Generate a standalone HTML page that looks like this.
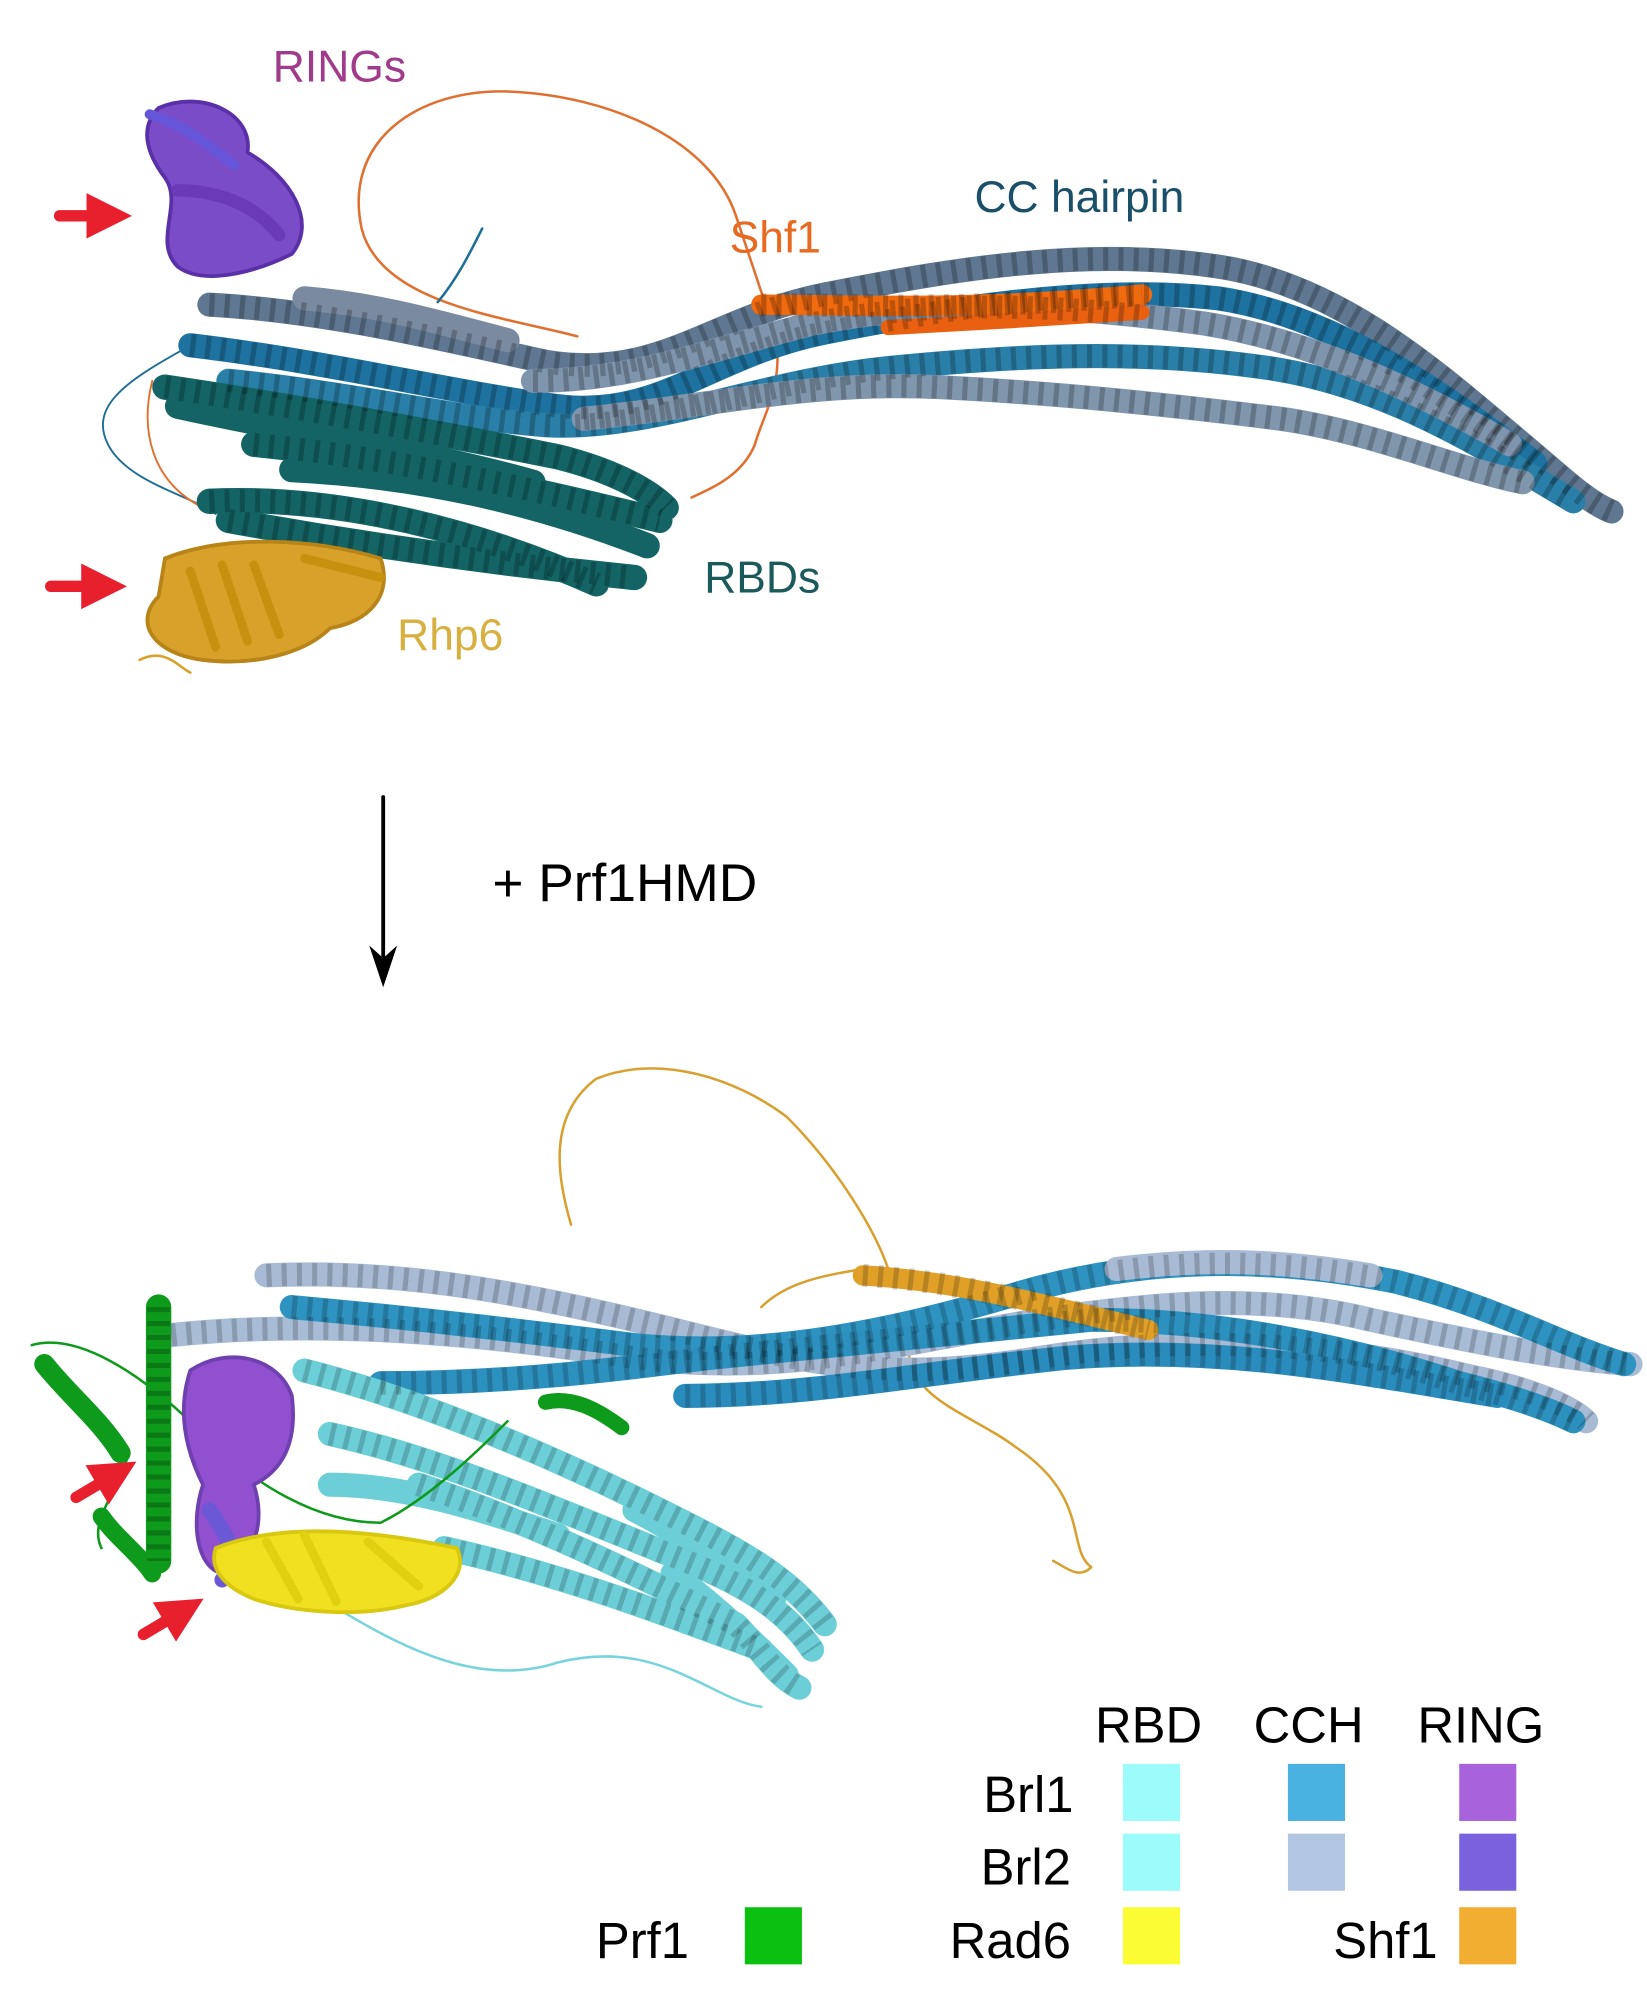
<!DOCTYPE html>
<html><head><meta charset="utf-8"><style>
html,body{margin:0;padding:0;background:#fff;}
svg{display:block;}
text{font-family:"Liberation Sans",Arial,sans-serif;}
</style></head><body>
<svg width="1647" height="2000" viewBox="0 0 1298 1576" xmlns="http://www.w3.org/2000/svg">
<defs>
<marker id="ah" markerWidth="4" markerHeight="4" refX="2" refY="2" orient="auto" markerUnits="strokeWidth"><path d="M0,0 L4,2 L0,4 z" fill="#e8202e"/></marker>
</defs>
<g fill="none" stroke-linecap="round" stroke-linejoin="round">
<path d="M455,265 C400,250 300,240 285,180 C270,110 330,70 400,72 C480,75 560,110 580,170 C590,200 600,230 610,260 C620,300 600,330 595,350 C585,375 560,385 545,392" stroke="#e07030" stroke-width="2"/>
<path d="M380,180 C370,200 360,220 345,238" stroke="#1e6f95" stroke-width="2"/>
<path d="M145,275 C100,300 70,320 85,350 C100,380 150,390 170,405" stroke="#1e6f95" stroke-width="1.5"/>
<path d="M120,300 C110,340 120,380 160,400" stroke="#e07030" stroke-width="1.5"/>
<g stroke-width="19">
<path d="M165,240 C260,245 360,270 430,285 C520,300 560,250 650,232 C760,210 860,195 960,210 C1060,225 1140,300 1200,350 C1230,375 1250,395 1270,403" stroke="#5f7790"/>
<path d="M150,272 C260,285 360,310 440,320 C520,330 560,280 650,262 C760,240 870,225 960,235 C1060,250 1150,320 1210,365" stroke="#1e72a0"/>
<path d="M180,300 C280,310 360,330 430,335 C510,340 600,300 700,290 C800,280 900,275 1000,290 C1100,305 1180,360 1240,395" stroke="#2a7fa8"/>
<path d="M420,300 C500,300 560,275 640,255 C740,235 840,240 950,255 C1040,270 1120,310 1190,350" stroke="#7f95ad"/>
<path d="M460,330 C560,320 640,300 740,305 C840,310 930,320 1010,330 C1080,340 1150,370 1200,380" stroke="#8096ad"/>
<path d="M240,235 C300,240 350,255 400,268" stroke="#7a8aa0"/>
</g>
<path d="M600,240 C680,240 760,245 900,232" stroke="#f06a10" stroke-width="16"/>
<path d="M700,258 C760,255 840,250 900,246" stroke="#e86010" stroke-width="12"/>
<g stroke-width="20" stroke="#146466">
<path d="M130,305 C230,320 340,340 440,360 C480,370 510,385 525,400"/>
<path d="M200,350 C300,360 400,380 520,410"/>
<path d="M165,395 C270,390 380,420 470,460"/>
<path d="M180,410 C290,430 400,445 500,455"/>
<path d="M230,370 C330,375 420,395 510,430"/>
<path d="M140,320 C230,340 330,355 420,380"/>
</g>
<g stroke="#000" stroke-opacity="0.22" stroke-width="18" stroke-dasharray="4 8" stroke-linecap="butt">
<path d="M165,240 C260,245 360,270 430,285 C520,300 560,250 650,232 C760,210 860,195 960,210 C1060,225 1140,300 1200,350 C1230,375 1250,395 1270,403"/>
<path d="M150,272 C260,285 360,310 440,320 C520,330 560,280 650,262 C760,240 870,225 960,235 C1060,250 1150,320 1210,365"/>
<path d="M180,300 C280,310 360,330 430,335 C510,340 600,300 700,290 C800,280 900,275 1000,290 C1100,305 1180,360 1240,395"/>
<path d="M460,330 C560,320 640,300 740,305 C840,310 930,320 1010,330 C1080,340 1150,370 1200,380"/>
<path d="M420,300 C500,300 560,275 640,255 C740,235 840,240 950,255 C1040,270 1120,310 1190,350"/>
<path d="M130,305 C230,320 340,340 440,360 C480,370 510,385 525,400"/>
<path d="M165,395 C270,390 380,420 470,460"/>
<path d="M180,410 C290,430 400,445 500,455"/>
<path d="M200,350 C300,360 400,380 520,410"/>
<path d="M600,240 C680,240 760,245 900,232"/>
</g>
<path d="M125,85 C160,70 200,90 195,120 C230,140 250,175 230,200 C200,215 160,225 140,210 C120,190 145,160 130,140 C115,120 110,100 125,85 z" fill="#7a4cc8" stroke="#5a30a8" stroke-width="3"/>
<path d="M140,150 C170,150 200,160 220,185" stroke="#6a3ab8" stroke-width="10"/>
<path d="M118,90 C150,100 170,120 185,130" stroke="#6655d8" stroke-width="8"/>
<path d="M130,440 C180,420 250,425 300,440 C310,470 290,490 260,495 C240,515 200,525 160,520 C120,515 105,490 125,470 z" fill="#d8a22a" stroke="#b88418" stroke-width="3"/>
<g stroke="#c8900f" stroke-width="7"><path d="M150,450 L170,510"/><path d="M175,445 L195,505"/><path d="M200,445 L220,500"/><path d="M240,440 L300,455"/></g>
<path d="M110,520 C130,510 140,525 150,530" stroke="#d8a22a" stroke-width="2"/>
<path d="M450,965 C440,930 430,880 470,850 C520,830 580,850 620,880 C660,920 690,970 700,1000" stroke="#d8a030" stroke-width="2"/>
<path d="M720,1040 C700,1100 760,1110 800,1140 C860,1180 840,1220 860,1235 C850,1245 840,1235 830,1230" stroke="#d8a030" stroke-width="2"/>
<path d="M600,1030 C620,1010 650,1005 680,1000" stroke="#d8a030" stroke-width="2"/>
<g stroke-width="19">
<path d="M135,1052 C250,1040 380,1050 500,1070 C620,1085 700,1060 820,1040 C920,1025 1000,1020 1080,1040 C1150,1055 1220,1070 1285,1075" stroke="#a8bcd6"/>
<path d="M210,1005 C320,1000 420,1020 540,1050 C640,1075 700,1090 820,1070 C940,1050 1060,1060 1160,1085 C1210,1095 1240,1110 1250,1120" stroke="#a8bad4"/>
<path d="M230,1030 C340,1040 420,1050 500,1060 C600,1070 700,1050 800,1020 C900,990 1000,990 1100,1010 C1180,1030 1230,1060 1280,1075" stroke="#2e93c0"/>
<path d="M300,1090 C400,1090 480,1080 560,1070 C660,1060 760,1050 860,1040 C960,1040 1060,1060 1150,1090 C1190,1100 1220,1110 1240,1120" stroke="#2d91bf"/>
<path d="M540,1100 C640,1100 740,1080 840,1070 C960,1060 1060,1080 1180,1100" stroke="#2a8cbc"/>
<path d="M880,1000 C960,990 1020,995 1080,1005" stroke="#a8bad4"/>
</g>
<path d="M680,1005 C760,1010 830,1030 905,1048" stroke="#e0a028" stroke-width="16"/>
<g stroke-width="19" stroke="#6ccfd8">
<path d="M240,1080 C320,1100 420,1140 520,1190 C580,1220 620,1240 650,1280"/>
<path d="M260,1130 C350,1150 440,1190 540,1230 C590,1250 620,1270 640,1300"/>
<path d="M330,1170 C420,1200 500,1240 580,1280 C600,1300 610,1320 630,1330"/>
<path d="M350,1220 C440,1240 520,1270 600,1300"/>
<path d="M500,1190 C540,1210 580,1240 610,1260"/>
<path d="M260,1170 C320,1170 380,1190 440,1210"/>
<path d="M530,1240 C570,1270 600,1300 620,1320"/>
</g>
<path d="M270,1270 C320,1300 380,1330 440,1310 C520,1290 560,1340 600,1345" stroke="#78d4dc" stroke-width="2"/>
<g stroke="#000" stroke-opacity="0.18" stroke-width="18" stroke-dasharray="4 8" stroke-linecap="butt">
<path d="M135,1052 C250,1040 380,1050 500,1070 C620,1085 700,1060 820,1040 C920,1025 1000,1020 1080,1040 C1150,1055 1220,1070 1285,1075"/>
<path d="M210,1005 C320,1000 420,1020 540,1050 C640,1075 700,1090 820,1070 C940,1050 1060,1060 1160,1085 C1210,1095 1240,1110 1250,1120"/>
<path d="M230,1030 C340,1040 420,1050 500,1060 C600,1070 700,1050 800,1020 C900,990 1000,990 1100,1010 C1180,1030 1230,1060 1280,1075"/>
<path d="M300,1090 C400,1090 480,1080 560,1070 C660,1060 760,1050 860,1040 C960,1040 1060,1060 1150,1090 C1190,1100 1220,1110 1240,1120"/>
<path d="M540,1100 C640,1100 740,1080 840,1070 C960,1060 1060,1080 1180,1100"/>
<path d="M240,1080 C320,1100 420,1140 520,1190 C580,1220 620,1240 650,1280"/>
<path d="M260,1130 C350,1150 440,1190 540,1230 C590,1250 620,1270 640,1300"/>
<path d="M330,1170 C420,1200 500,1240 580,1280 C600,1300 610,1320 630,1330"/>
<path d="M350,1220 C440,1240 520,1270 600,1300"/>
<path d="M680,1005 C760,1010 830,1030 905,1048"/>
</g>
<g stroke="#0e9a1a">
<path d="M125,1030 L125,1230" stroke-width="20"/>
<path d="M35,1075 C55,1100 80,1120 95,1145" stroke-width="16"/>
<path d="M80,1195 C90,1210 110,1225 120,1240" stroke-width="14"/>
<path d="M430,1105 C450,1100 470,1110 490,1125" stroke-width="12"/>
<path d="M25,1060 C60,1050 110,1080 160,1130 C200,1170 250,1200 300,1200 C340,1180 380,1140 400,1120" stroke-width="2"/>
<path d="M100,1150 C90,1180 70,1200 80,1220" stroke-width="2"/>
</g>
<g stroke="#000" stroke-opacity="0.22" stroke-width="18" stroke-dasharray="4 7" stroke-linecap="butt"><path d="M125,1030 L125,1230"/></g>
<path d="M150,1080 C180,1060 220,1070 230,1100 C235,1140 220,1160 200,1170 C210,1200 200,1230 175,1240 C155,1235 150,1200 160,1170 C145,1140 140,1110 150,1080 z" fill="#9050d0" stroke="#7040b0" stroke-width="3"/>
<path d="M165,1190 C180,1210 190,1230 175,1245" stroke="#6a58d6" stroke-width="12"/>
<path d="M170,1220 C220,1200 290,1205 360,1220 C370,1240 350,1260 320,1265 C280,1275 230,1270 200,1260 C175,1250 165,1235 170,1220 z" fill="#f0e020" stroke="#d8c810" stroke-width="3"/>
<g stroke="#e0d010" stroke-width="7"><path d="M210,1215 L235,1260"/><path d="M240,1210 L265,1262"/><path d="M290,1215 L330,1250"/></g>
<g stroke="#e8202e" stroke-width="9">
<line x1="47" y1="170" x2="86" y2="170" marker-end="url(#ah)"/>
<line x1="40" y1="462" x2="82" y2="462" marker-end="url(#ah)"/>
<line x1="60" y1="1180" x2="92" y2="1161" marker-end="url(#ah)"/>
<line x1="113" y1="1288" x2="145" y2="1269" marker-end="url(#ah)"/>
</g>
<line x1="302" y1="628" x2="302" y2="760" stroke="#000" stroke-width="3"/>
</g>
<path d="M291,745 L302,778 L313,745 L302,755 z" fill="#000"/>
<text x="215" y="64" font-size="35" fill="#a03a8a">RINGs</text>
<text x="768" y="167" font-size="35" fill="#1a4f6a">CC hairpin</text>
<text x="575" y="199" font-size="35" fill="#e86a20">Shf1</text>
<text x="555" y="467" font-size="35" fill="#1a5a5a">RBDs</text>
<text x="313" y="512" font-size="35" fill="#d8b040">Rhp6</text>
<text x="388" y="710" font-size="42" fill="#000">+ Prf1HMD</text>
<g font-size="40" fill="#000">
<text x="863" y="1373">RBD</text>
<text x="988" y="1373">CCH</text>
<text x="1117" y="1373">RING</text>
<text x="846" y="1428" text-anchor="end">Brl1</text>
<text x="844" y="1485" text-anchor="end">Brl2</text>
<text x="844" y="1543" text-anchor="end">Rad6</text>
<text x="543" y="1543" text-anchor="end">Prf1</text>
<text x="1133" y="1543" text-anchor="end">Shf1</text>
</g>
<rect x="885" y="1390" width="45" height="45" fill="#9cfcfc"/>
<rect x="1015" y="1390" width="45" height="45" fill="#4ab2e0"/>
<rect x="1150" y="1390" width="45" height="45" fill="#a862dc"/>
<rect x="885" y="1445" width="45" height="45" fill="#9cfcfc"/>
<rect x="1015" y="1445" width="45" height="45" fill="#b2c6e2"/>
<rect x="1150" y="1445" width="45" height="45" fill="#7a62de"/>
<rect x="885" y="1503" width="45" height="45" fill="#fcfc34"/>
<rect x="1150" y="1503" width="45" height="45" fill="#f2ae30"/>
<rect x="587" y="1503" width="45" height="45" fill="#0cc010"/>
</svg>
</body></html>
